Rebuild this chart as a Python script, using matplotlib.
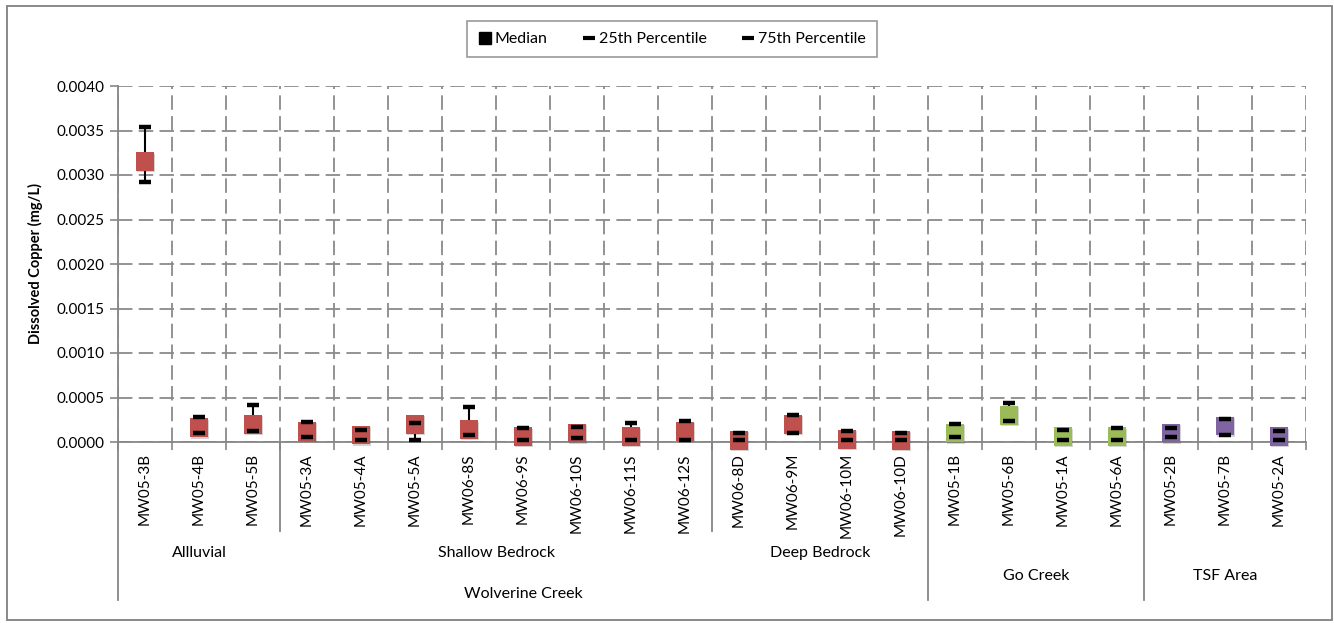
import matplotlib
matplotlib.use("Agg")
import matplotlib.pyplot as plt
import matplotlib.patheffects as pe
from matplotlib.lines import Line2D
from matplotlib.patches import Rectangle

plt.rcParams["font.family"] = ["Lato", "DejaVu Sans"]

sites = [
    "MW05-3B", "MW05-4B", "MW05-5B",
    "MW05-3A", "MW05-4A", "MW05-5A", "MW06-8S", "MW06-9S", "MW06-10S",
    "MW06-11S", "MW06-12S",
    "MW06-8D", "MW06-9M", "MW06-10M", "MW06-10D",
    "MW05-1B", "MW05-6B", "MW05-1A", "MW05-6A",
    "MW05-2B", "MW05-7B", "MW05-2A",
]
median = [
    0.00315, 0.00016, 0.00020,
    0.00012, 0.00008, 0.00020, 0.00014, 0.00006, 0.00010,
    0.00006, 0.00012,
    0.00002, 0.00020, 0.00003, 0.00002,
    0.00010, 0.00030, 0.00006, 0.00006,
    0.00010, 0.00018, 0.00006,
]
p25 = [
    0.00292, 0.00010, 0.00012,
    0.00006, 0.00002, 0.00002, 0.00008, 0.00002, 0.00004,
    0.00002, 0.00002,
    0.00002, 0.00010, 0.00002, 0.00002,
    0.00006, 0.00024, 0.00002, 0.00002,
    0.00006, 0.00008, 0.00002,
]
p75 = [
    0.00354, 0.00028, 0.00042,
    0.00022, 0.00014, 0.00021, 0.00039, 0.00016, 0.00017,
    0.00021, 0.00024,
    0.00010, 0.00030, 0.00012, 0.00010,
    0.00020, 0.00044, 0.00014, 0.00016,
    0.00016, 0.00026, 0.00012,
]
area = ["wolverine"] * 15 + ["go"] * 4 + ["tsf"] * 3
area_colors = {"wolverine": "#C0504D", "go": "#9BBB59", "tsf": "#8064A2"}

# (label, first index, last index, level)
groups = [
    ("Allluvial", 0, 2, 1),
    ("Shallow Bedrock", 3, 10, 1),
    ("Deep Bedrock", 11, 14, 1),
    ("Wolverine Creek", 0, 14, 2),
    ("Go Creek", 15, 18, 2),
    ("TSF Area", 19, 21, 2),
]

fig = plt.figure(figsize=(13.34, 6.23), dpi=100)
ax = fig.add_axes([118 / 1334, 181 / 623, 1188 / 1334, 356 / 623])

x = list(range(len(sites)))
grid_kw = dict(color="#8a8a8a", linewidth=1.3, linestyle=(0, (8, 3.5)))

ax.set_xlim(-0.5, len(sites) - 0.5)
ax.set_ylim(0, 0.004)
ax.set_yticks([i * 0.0005 for i in range(9)])
ax.set_yticklabels([f"{i * 0.0005:.4f}" for i in range(9)], fontsize=11)
ax.set_xticks(x)
ax.set_xticklabels(sites, rotation=90, fontsize=11)
ax.set_xticks([i - 0.5 for i in range(len(sites) + 1)], minor=True)
ax.tick_params(axis="x", which="major", length=0, pad=8)
ax.tick_params(axis="x", which="minor", length=6, color="#868686", width=1.2)
ax.tick_params(axis="y", length=6, color="#868686", width=1.2)

ax.grid(axis="y", which="major", **grid_kw)
ax.grid(axis="x", which="minor", **grid_kw)
ax.set_axisbelow(True)
for side in ["top", "right"]:
    ax.spines[side].set_visible(False)
for side in ["left", "bottom"]:
    ax.spines[side].set_color("#868686")
    ax.spines[side].set_linewidth(1.3)

ax.set_ylabel("Dissolved Copper (mg/L)", fontsize=10.5, fontweight="bold", labelpad=10)

# whiskers between 25th and 75th percentiles
ax.vlines(x, p25, p75, color="black", linewidth=1.5, zorder=3)

shadow = [pe.SimplePatchShadow(offset=(0.8, -1.0), alpha=0.2), pe.Normal()]
for i in x:
    ax.plot(i, median[i], marker="s", markersize=13.5, linestyle="none",
            color=area_colors[area[i]], markeredgewidth=0, zorder=4,
            clip_on=False, path_effects=shadow)
ax.plot(x, p25, marker="_", markersize=8.5, markeredgewidth=3.2,
        linestyle="none", color="black", zorder=5, clip_on=False)
ax.plot(x, p75, marker="_", markersize=8.5, markeredgewidth=3.2,
        linestyle="none", color="black", zorder=5, clip_on=False)

# grouped category axis below the site labels
trans = ax.get_xaxis_transform()
sep_kw = dict(color="#868686", linewidth=1.3, transform=trans, clip_on=False)
for y_pos, bounds in [(-0.25, [2.5, 10.5]), (-0.445, [-0.5, 14.5, 18.5])]:
    for b in bounds:
        ax.plot([b, b], [0, y_pos], **sep_kw)

for label, start, end, level in groups:
    centre = (start + end) / 2
    if label == "Wolverine Creek":
        y_text = -0.427
    elif level == 1:
        y_text = -0.312
    else:
        y_text = -0.376
    ax.text(centre, y_text, label, transform=trans, ha="center", va="center",
            fontsize=11.5)

handles = [
    Line2D([], [], marker="s", color="black", linestyle="none", markersize=9),
    Line2D([], [], marker="_", color="black", linestyle="none", markersize=8,
           markeredgewidth=3),
    Line2D([], [], marker="_", color="black", linestyle="none", markersize=8,
           markeredgewidth=3),
]
leg = fig.legend(handles, ["Median", "25th Percentile", "75th Percentile"],
                 loc="center", bbox_to_anchor=(672 / 1334, 1 - 39 / 623),
                 ncol=3, fontsize=11.5, frameon=True, fancybox=False,
                 handlelength=0.8, handletextpad=0.2, columnspacing=2.2,
                 borderpad=0.7, borderaxespad=0)
leg.get_frame().set_edgecolor("#808080")
leg.get_frame().set_linewidth(1.2)

fig.patches.append(Rectangle((7 / 1334, 3 / 623), 1325 / 1334, 614 / 623,
                             transform=fig.transFigure, fill=False,
                             edgecolor="#808080", linewidth=1.3))

fig.savefig("out.png", dpi=100)
